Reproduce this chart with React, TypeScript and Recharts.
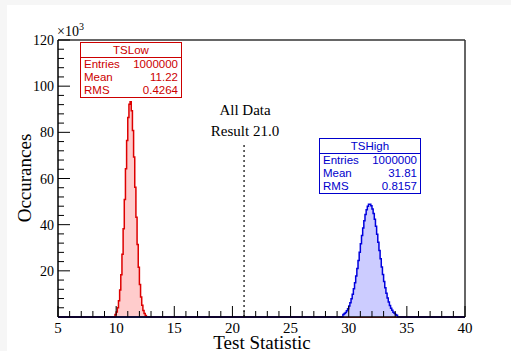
import React from 'react';
import { ComposedChart, Area, XAxis, YAxis, ReferenceLine } from 'recharts';

// histogram bin contents (bin width 0.1)
const tsLowFirstEdge = 9.9;
const tsLowCounts = [
  1100, 2200, 4000, 7000, 11700, 18300, 27200, 38200, 50900, 64200, 76500, 86400, 92200, 93300,
  89300, 80800, 69300, 56200, 43200, 31400, 21600, 14100, 8700, 5100, 2800, 1500, 700,
];

const tsHighFirstEdge = 29.5;
const tsHighCounts = [
  1050, 1470, 2000, 2700, 3600, 4800, 6200, 7900, 9900, 12200, 14800, 17800, 21000, 24500, 28000,
  31700, 35300, 38600, 41700, 44400, 46500, 48000, 48800, 48800, 48200, 46800, 44800, 42300, 39300,
  35900, 32400, 28800, 25200, 21700, 18400, 15400, 12700, 10300, 8200, 6500, 5000, 3800, 2900,
  2100, 1600, 1100, 800,
];

const xTicks = [5, 6, 7, 8, 9, 10, 11, 12, 13, 14, 15, 16, 17, 18, 19, 20, 21, 22, 23, 24, 25, 26, 27, 28, 29, 30, 31, 32, 33, 34, 35, 36, 37, 38, 39, 40];
const xMajor = [5, 10, 15, 20, 25, 30, 35, 40];
const yTicks = [4000, 8000, 12000, 16000, 20000, 24000, 28000, 32000, 36000, 40000, 44000, 48000, 52000, 56000, 60000, 64000, 68000, 72000, 76000, 80000, 84000, 88000, 92000, 96000, 100000, 104000, 108000, 112000, 116000, 120000];
const yMajor = [20000, 40000, 60000, 80000, 100000, 120000];

const resultValue = 21.0;
const nBins = 350;

const lowStart = Math.round(tsLowFirstEdge * 10) - 50;
const highStart = Math.round(tsHighFirstEdge * 10) - 50;

const data = Array.from({ length: nBins + 1 }, (_, i) => ({
  x: (50 + i) / 10,
  low: tsLowCounts[i - lowStart] ?? 0,
  high: tsHighCounts[i - highStart] ?? 0,
}));

const serif = '"Liberation Serif", "Times New Roman", serif';
const sans = '"Liberation Sans", Arial, sans-serif';

const XTick = (props: any) => {
  const { x, y, payload } = props;
  const major = xMajor.includes(payload.value);
  return (
    <g>
      <line x1={x} x2={x} y1={y} y2={y - (major ? 11 : 6)} stroke="#000" strokeWidth={1} />
      {major && (
        <text x={x} y={y + 16} textAnchor="middle" fontFamily={serif} fontSize={15} fill="#000">
          {payload.value}
        </text>
      )}
    </g>
  );
};

const YTick = (props: any) => {
  const { x, y, payload } = props;
  const major = yMajor.includes(payload.value);
  return (
    <g>
      <line x1={x} x2={x + (major ? 12 : 6)} y1={y} y2={y} stroke="#000" strokeWidth={1} />
      {major && (
        <text x={x - 4} y={y + 5} textAnchor="end" fontFamily={serif} fontSize={14} fill="#000">
          {payload.value / 1000}
        </text>
      )}
    </g>
  );
};

function StatsBox({ left, top, title, color, mean, rms }: any) {
  const row = { display: 'flex', justifyContent: 'space-between', padding: '0 3px', height: 13, lineHeight: '13px' };
  return (
    <div
      style={{
        position: 'absolute',
        left,
        top,
        width: 100,
        border: `1.5px solid ${color}`,
        background: '#fff',
        color,
        fontFamily: sans,
        fontSize: 11.5,
      }}
    >
      <div style={{ textAlign: 'center', borderBottom: `1.5px solid ${color}`, height: 14, lineHeight: '14px' }}>{title}</div>
      <div style={row}><span>Entries</span><span>1000000</span></div>
      <div style={row}><span>Mean</span><span>{mean}</span></div>
      <div style={row}><span>RMS</span><span>{rms}</span></div>
    </div>
  );
}

export default function App() {
  return (
    <div style={{ position: 'absolute', left: 0, top: 0, width: 511, height: 351, background: '#f6f6f6' }}>
      <div style={{ position: 'absolute', left: 7, top: 5, width: 504, height: 346, background: '#fff' }} />
      <div style={{ position: 'absolute', left: 0, top: 0 }}>
        <ComposedChart width={511} height={351} data={data} margin={{ top: 40, right: 46, bottom: 0, left: 8 }}>
          <Area
            type="stepAfter"
            dataKey="low"
            stroke="#dd0000"
            strokeWidth={1.5}
            fill="#ffcccc"
            fillOpacity={1}
            dot={false}
            activeDot={false}
            isAnimationActive={false}
          />
          <Area
            type="stepAfter"
            dataKey="high"
            stroke="#0000dd"
            strokeWidth={1.5}
            fill="#ccccff"
            fillOpacity={1}
            dot={false}
            activeDot={false}
            isAnimationActive={false}
          />
          <ReferenceLine
            segment={[{ x: resultValue, y: 0 }, { x: resultValue, y: 75000 }]}
            stroke="#000"
            strokeDasharray="2 3"
            strokeWidth={1.2}
          />
          <ReferenceLine y={120000} stroke="#333" strokeWidth={1.5} />
          <ReferenceLine x={40} stroke="#333" strokeWidth={1.5} />
          <XAxis
            dataKey="x"
            type="number"
            domain={[5, 40]}
            ticks={xTicks}
            interval={0}
            tickSize={0}
            tickMargin={0}
            height={34}
            tick={<XTick />}
            axisLine={{ stroke: '#000', strokeWidth: 1.5 }}
          />
          <YAxis
            type="number"
            domain={[0, 120000]}
            ticks={yTicks}
            interval={0}
            tickSize={0}
            tickMargin={0}
            width={50}
            tick={<YTick />}
            axisLine={{ stroke: '#000', strokeWidth: 1.5 }}
          />
        </ComposedChart>
      </div>
      <div style={{ position: 'absolute', left: 57, top: 24, fontFamily: serif, fontSize: 14, color: '#000' }}>
        ×10<sup style={{ fontSize: 10, verticalAlign: 'top', position: 'relative', top: -3 }}>3</sup>
      </div>
      <div style={{ position: 'absolute', left: 195, top: 100, width: 100, textAlign: 'center', fontFamily: serif, fontSize: 15, lineHeight: '21px' }}>
        All Data<br />Result {resultValue.toFixed(1)}
      </div>
      <div style={{ position: 'absolute', left: 162, top: 334, width: 200, textAlign: 'center', fontFamily: serif, fontSize: 19, lineHeight: '17px' }}>
        Test Statistic
      </div>
      <div
        style={{
          position: 'absolute',
          left: 25,
          top: 178,
          transform: 'translate(-50%, -50%) rotate(-90deg)',
          fontFamily: serif,
          fontSize: 19,
          whiteSpace: 'nowrap',
        }}
      >
        Occurances
      </div>
      <StatsBox left={80} top={42} title="TSLow" color="#cc0000" mean="11.22" rms="0.4264" />
      <StatsBox left={319} top={138} title="TSHigh" color="#0000cc" mean="31.81" rms="0.8157" />
    </div>
  );
}
